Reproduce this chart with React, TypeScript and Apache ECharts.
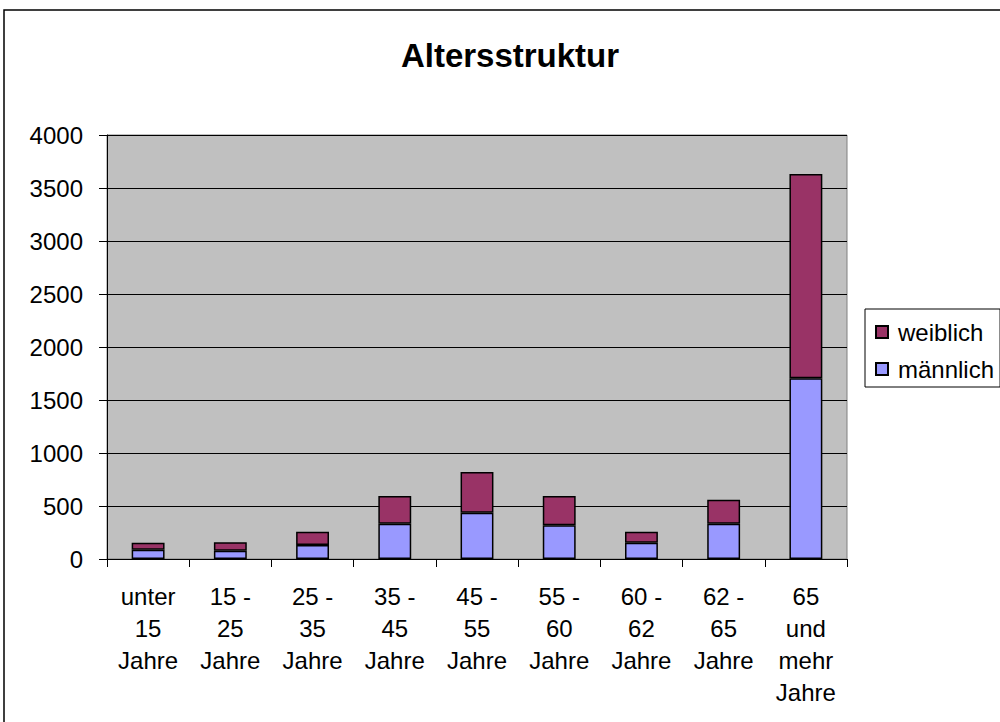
import React, { useEffect, useRef } from "react";
import * as echarts from "echarts";

const categories = [
  "unter\n15\nJahre",
  "15 -\n25\nJahre",
  "25 -\n35\nJahre",
  "35 -\n45\nJahre",
  "45 -\n55\nJahre",
  "55 -\n60\nJahre",
  "60 -\n62\nJahre",
  "62 -\n65\nJahre",
  "65\nund\nmehr\nJahre",
];
const maennlich = [88, 78, 132, 333, 437, 318, 154, 333, 1705];
const weiblich = [66, 79, 126, 261, 384, 276, 104, 227, 1927];
const titleText = "Altersstruktur";
const FONT = "'Liberation Sans', Arial, sans-serif";

export default function App() {
  const ref = useRef<HTMLDivElement>(null);
  useEffect(() => {
    if (!ref.current) return;
    const chart = echarts.init(ref.current, null, { renderer: "svg" });
    chart.setOption({
      animation: false,
      backgroundColor: "#ffffff",
      textStyle: { fontFamily: FONT, color: "#000" },
      graphic: [
        {
          type: "rect",
          shape: { x: 4, y: 10, width: 1100, height: 800 },
          style: { fill: "none", stroke: "#000", lineWidth: 1.5 },
          z: -1,
        },
        {
          type: "text",
          x: 510,
          y: 55,
          style: {
            text: titleText,
            fontFamily: FONT,
            fontSize: 33,
            fontWeight: "bold",
            fill: "#000",
            textAlign: "center",
            textVerticalAlign: "middle",
          },
        },
      ],
      legend: {
        orient: "vertical",
        left: 865,
        top: 309,
        data: ["weiblich", "männlich"],
        icon: "rect",
        itemWidth: 12,
        itemHeight: 12,
        itemGap: 13,
        padding: [11, 6, 6, 10],
        borderColor: "#000",
        borderWidth: 1,
        textStyle: { fontFamily: FONT, fontSize: 24, color: "#000", padding: [0, 0, 0, 5] },
      },
      grid: {
        left: 107,
        right: 153,
        top: 135,
        bottom: 163,
        show: true,
        backgroundColor: "#c0c0c0",
        borderColor: "#808080",
        borderWidth: 1,
      },
      xAxis: {
        type: "category",
        data: categories,
        boundaryGap: true,
        axisLine: { lineStyle: { color: "#000", width: 1 } },
        axisTick: { show: true, length: 8, lineStyle: { color: "#000" }, alignWithLabel: false },
        axisLabel: {
          interval: 0,
          margin: 21,
          fontFamily: FONT,
          fontSize: 24,
          lineHeight: 32,
          color: "#000",
          verticalAlign: "top",
        },
      },
      yAxis: {
        type: "value",
        min: 0,
        max: 4000,
        interval: 500,
        axisLine: { show: true, lineStyle: { color: "#000", width: 1 } },
        axisTick: { show: true, length: 8, lineStyle: { color: "#000" } },
        axisLabel: {
          margin: 24,
          fontFamily: FONT,
          fontSize: 24,
          color: "#000",
          formatter: (v: number) => String(v),
        },
        splitLine: { show: true, lineStyle: { color: "#000", width: 1 } },
      },
      series: [
        {
          name: "männlich",
          type: "bar",
          stack: "total",
          barWidth: "40%",
          data: maennlich,
          itemStyle: { color: "#9999ff", borderColor: "#000", borderWidth: 1.5 },
        },
        {
          name: "weiblich",
          type: "bar",
          stack: "total",
          barWidth: "40%",
          data: weiblich,
          itemStyle: { color: "#993366", borderColor: "#000", borderWidth: 1.5 },
        },
      ],
    });
    return () => chart.dispose();
  }, []);
  return (
    <div
      ref={ref}
      style={{ position: "fixed", left: 0, top: 0, width: 1000, height: 722 }}
    />
  );
}
